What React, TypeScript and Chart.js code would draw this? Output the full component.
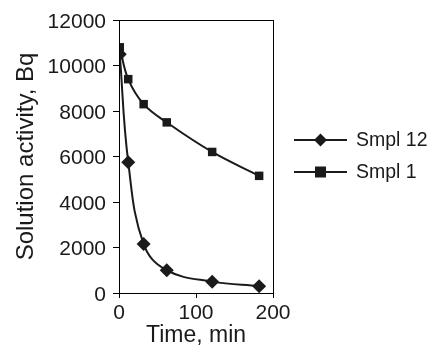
import React, { useEffect, useRef } from "react";
import { Chart, registerables } from "chart.js";

Chart.register(...registerables);

// Sampling times (min) and measured activity (Bq)
const timeMin = [1, 12, 32, 62, 121, 182];
const smpl12 = [10500, 5750, 2150, 1000, 500, 300];
const smpl1 = [10800, 9400, 8300, 7500, 6200, 5150];
const xTicks = [0, 100, 200];
const yTicks = [0, 2000, 4000, 6000, 8000, 10000, 12000];

const FONT = "Liberation Sans, Arial, sans-serif";
const INK = "#1a1a1a";

// Frame around the plot area and a line+marker legend on the right
const framePlugin = {
  id: "frameAndLegend",
  afterDraw(chart: any) {
    const { ctx, chartArea } = chart;
    ctx.save();
    ctx.strokeStyle = "#000";
    ctx.lineWidth = 1;
    ctx.strokeRect(
      Math.round(chartArea.left) + 0.5,
      Math.round(chartArea.top) + 0.5,
      Math.round(chartArea.right - chartArea.left),
      Math.round(chartArea.bottom - chartArea.top)
    );

    const items = [
      { label: "Smpl 12", y: 140, style: "diamond" },
      { label: "Smpl 1", y: 172, style: "square" },
    ];
    const x0 = 294;
    const x1 = 347;
    ctx.font = `19.5px ${FONT}`;
    ctx.textBaseline = "middle";
    ctx.fillStyle = INK;
    for (const it of items) {
      ctx.strokeStyle = INK;
      ctx.lineWidth = 2;
      ctx.beginPath();
      ctx.moveTo(x0, it.y);
      ctx.lineTo(x1, it.y);
      ctx.stroke();
      const cx = (x0 + x1) / 2;
      ctx.beginPath();
      if (it.style === "diamond") {
        ctx.moveTo(cx, it.y - 6.5);
        ctx.lineTo(cx + 6.5, it.y);
        ctx.lineTo(cx, it.y + 6.5);
        ctx.lineTo(cx - 6.5, it.y);
        ctx.closePath();
      } else {
        ctx.rect(cx - 5.5, it.y - 5.5, 11, 11);
      }
      ctx.fill();
      ctx.fillText(it.label, 356, it.y + 1);
    }
    ctx.restore();
  },
};

export default function App() {
  const ref = useRef<HTMLCanvasElement>(null);

  useEffect(() => {
    if (!ref.current) return;
    const chart = new Chart(ref.current, {
      type: "line",
      data: {
        datasets: [
          {
            label: "Smpl 12",
            data: timeMin.map((t, i) => ({ x: t, y: smpl12[i] })),
            borderColor: INK,
            backgroundColor: INK,
            borderWidth: 2,
            tension: 0.4,
            pointStyle: "rectRot",
            pointRadius: 7,
            pointBorderWidth: 0,
          },
          {
            label: "Smpl 1",
            data: timeMin.map((t, i) => ({ x: t, y: smpl1[i] })),
            borderColor: INK,
            backgroundColor: INK,
            borderWidth: 2,
            tension: 0.4,
            pointStyle: "rect",
            pointRadius: 6,
            pointBorderWidth: 0,
          },
        ],
      },
      options: {
        animation: false,
        responsive: false,
        layout: { padding: { left: 0, top: 20, right: 160, bottom: 0 } },
        plugins: {
          legend: { display: false },
          tooltip: { enabled: false },
        },
        scales: {
          x: {
            type: "linear",
            min: 0,
            max: 200,
            afterBuildTicks: (s: any) => {
              s.ticks = xTicks.map((v) => ({ value: v }));
            },
            afterFit: (s: any) => {
              s.height = 54;
            },
            grid: {
              drawOnChartArea: false,
              drawTicks: true,
              tickLength: 5,
              color: "#000",
            },
            border: { color: "#000", width: 1 },
            ticks: {
              color: INK,
              font: { family: FONT, size: 21 },
              padding: 3,
              callback: (v: any) => String(v),
            },
            title: {
              display: true,
              text: "Time, min",
              color: INK,
              font: { family: FONT, size: 23, lineHeight: 1 },
              padding: { top: 0, bottom: 0 },
            },
          },
          y: {
            type: "linear",
            min: 0,
            max: 12000,
            afterBuildTicks: (s: any) => {
              s.ticks = yTicks.map((v) => ({ value: v }));
            },
            afterFit: (s: any) => {
              s.width = 119;
            },
            grid: {
              drawOnChartArea: false,
              drawTicks: true,
              tickLength: 6,
              color: "#000",
            },
            border: { color: "#000", width: 1 },
            ticks: {
              color: INK,
              font: { family: FONT, size: 21 },
              padding: 7,
              labelOffset: 2,
              callback: (v: any) => String(v),
            },
            title: {
              display: true,
              text: "Solution activity, Bq",
              color: INK,
              font: { family: FONT, size: 24, lineHeight: 1 },
              padding: { top: 14.5, bottom: 0 },
            },
          },
        },
      },
      plugins: [framePlugin],
    });
    return () => chart.destroy();
  }, []);

  return (
    <div style={{ position: "fixed", left: 0, top: 0, width: 433, height: 347, background: "#fff" }}>
      <canvas ref={ref} width={433} height={347} />
    </div>
  );
}
